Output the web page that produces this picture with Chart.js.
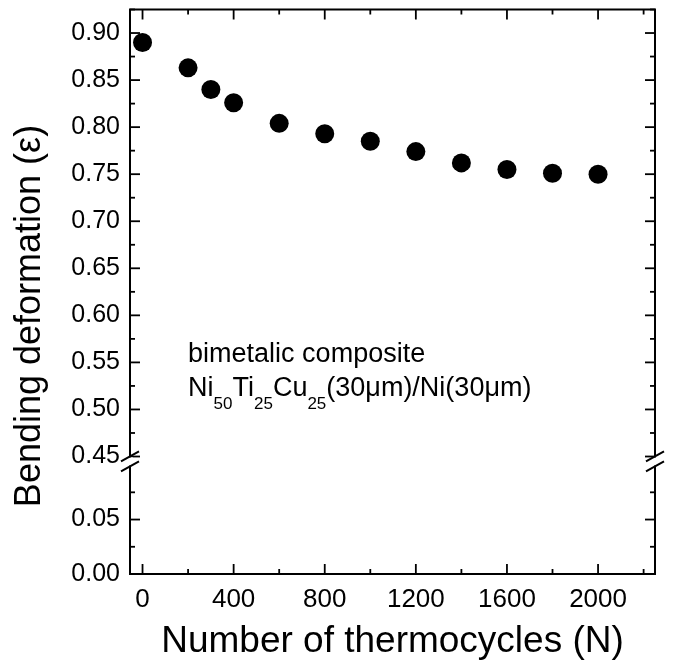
<!DOCTYPE html>
<html>
<head>
<meta charset="utf-8">
<script src="https://cdn.jsdelivr.net/npm/chart.js@4.4.1/dist/chart.umd.min.js"></script>
<style>
  html, body { margin: 0; padding: 0; background: #fff; }
</style>
</head>
<body>
<canvas id="myChart" width="676" height="667"></canvas>
<script>
const cycles = [0, 200, 300, 400, 600, 800, 1000, 1200, 1400, 1600, 1800, 2000];
const deformation = [0.890, 0.863, 0.840, 0.826, 0.804, 0.793, 0.785, 0.774, 0.762, 0.755, 0.751, 0.750];

const xTickValues = [0, 400, 800, 1200, 1600, 2000];
const yUpperTicks = [0.45, 0.50, 0.55, 0.60, 0.65, 0.70, 0.75, 0.80, 0.85, 0.90];
const yLowerTicks = [0.00, 0.05];

const noteLine1 = 'bimetalic composite';
const noteLine2 = [['Ni', '50'], ['Ti', '25'], ['Cu', '25'], ['(30μm)/Ni(30μm)', '']];

const FONT = "'Liberation Sans', Arial, sans-serif";
Chart.defaults.font.family = FONT;
Chart.defaults.color = '#000';

// frame, inward ticks, axis break, y title and the note
const decorations = {
  id: 'decorations',
  afterDraw(chart) {
    const ctx = chart.ctx;
    const a = chart.chartArea;
    const x = chart.scales.x, yt = chart.scales.y, yb = chart.scales.y0;
    ctx.save();
    ctx.strokeStyle = '#000';
    ctx.lineWidth = 2;
    ctx.strokeRect(a.left, a.top, a.right - a.left, a.bottom - a.top);

    ctx.lineWidth = 1.8;
    function line(x1, y1, x2, y2) {
      ctx.beginPath(); ctx.moveTo(x1, y1); ctx.lineTo(x2, y2); ctx.stroke();
    }
    function xTick(v, len) {
      const px = x.getPixelForValue(v);
      if (px < a.left || px > a.right) return;
      line(px, a.bottom, px, a.bottom - len);
      line(px, a.top, px, a.top + len);
    }
    function yTick(scale, v, len) {
      const py = scale.getPixelForValue(v);
      if (py < scale.top - 0.5 || py > scale.bottom + 0.5) return;
      line(a.left, py, a.left + len, py);
      line(a.right, py, a.right - len, py);
    }
    xTickValues.forEach(v => { xTick(v, 10); xTick(v + 200, 5); });
    yUpperTicks.forEach(v => { yTick(yt, v, 10); yTick(yt, v + 0.025, 5); });
    yLowerTicks.forEach(v => { yTick(yb, v, 10); yTick(yb, v + 0.025, 5); });

    // axis break
    const yBreak = yt.bottom;
    [a.left, a.right].forEach(ax => {
      ctx.fillStyle = '#fff';
      ctx.fillRect(ax - 3, yBreak - 4, 6, 8);
      ctx.lineWidth = 2;
      line(ax - 9, yBreak, ax + 9, yBreak - 10);
      line(ax - 9, yBreak + 10, ax + 9, yBreak);
    });

    // y title
    ctx.fillStyle = '#000';
    ctx.save();
    ctx.translate(30, 316);
    ctx.rotate(-Math.PI / 2);
    ctx.font = '36px ' + FONT;
    ctx.textAlign = 'center';
    ctx.textBaseline = 'middle';
    ctx.fillText('Bending deformation (ε)', 0, 0);
    ctx.restore();

    // note
    const nx = x.getPixelForValue(200);
    const ny = yt.getPixelForValue(0.55);
    ctx.textAlign = 'left';
    ctx.textBaseline = 'alphabetic';
    ctx.font = '27px ' + FONT;
    ctx.fillText(noteLine1, nx, ny);
    let cx = nx;
    const ny2 = ny + 34;
    noteLine2.forEach(([main, sub]) => {
      ctx.font = '27px ' + FONT;
      ctx.fillText(main, cx, ny2);
      cx += ctx.measureText(main).width;
      if (sub) {
        ctx.font = '17px ' + FONT;
        ctx.fillText(sub, cx, ny2 + 13);
        cx += ctx.measureText(sub).width;
      }
    });
    ctx.restore();
  }
};

function fixY(s) { s.width = 130; s.paddingTop = 0; s.paddingBottom = 0; }

const myChart = new Chart(document.getElementById('myChart'), {
  type: 'scatter',
  data: {
    datasets: [{
      data: cycles.map((c, i) => ({ x: c, y: deformation[i] })),
      xAxisID: 'x',
      yAxisID: 'y',
      pointRadius: 9.5,
      pointHoverRadius: 9.5,
      pointBackgroundColor: '#000',
      pointBorderColor: '#000',
      pointBorderWidth: 0,
      showLine: false
    }]
  },
  options: {
    responsive: false,
    animation: false,
    layout: { padding: { left: 0, right: 21, top: 7, bottom: 0 } },
    plugins: { legend: { display: false }, tooltip: { enabled: false } },
    scales: {
      x: {
        type: 'linear',
        min: -55,
        max: 2250,
        afterBuildTicks: s => { s.ticks = xTickValues.map(v => ({ value: v })); },
        grid: { display: false, drawTicks: false },
        border: { display: false },
        ticks: { font: { size: 26 }, padding: 10, maxRotation: 0, autoSkip: false, callback: v => String(v) },
        title: { display: true, text: 'Number of thermocycles (N)', font: { size: 37 }, padding: { top: 0, bottom: 3 } },
        afterFit: s => { s.height = 93; s.paddingLeft = 0; s.paddingRight = 0; }
      },
      y0: {
        type: 'linear',
        position: 'left',
        stack: 'y',
        stackWeight: 113,
        min: 0,
        max: 0.1033,
        afterBuildTicks: s => { s.ticks = yLowerTicks.map(v => ({ value: v })); },
        grid: { display: false, drawTicks: false },
        border: { display: false },
        ticks: { font: { size: 25 }, padding: 10, autoSkip: false, callback: v => v.toFixed(2) },
        afterFit: fixY
      },
      y: {
        type: 'linear',
        position: 'left',
        stack: 'y',
        stackWeight: 454,
        min: 0.4447,
        max: 0.925,
        afterBuildTicks: s => { s.ticks = yUpperTicks.map(v => ({ value: v })); },
        grid: { display: false, drawTicks: false },
        border: { display: false },
        ticks: { font: { size: 25 }, padding: 10, autoSkip: false, callback: v => v.toFixed(2) },
        afterFit: fixY
      }
    }
  },
  plugins: [decorations]
});
</script>
</body>
</html>
